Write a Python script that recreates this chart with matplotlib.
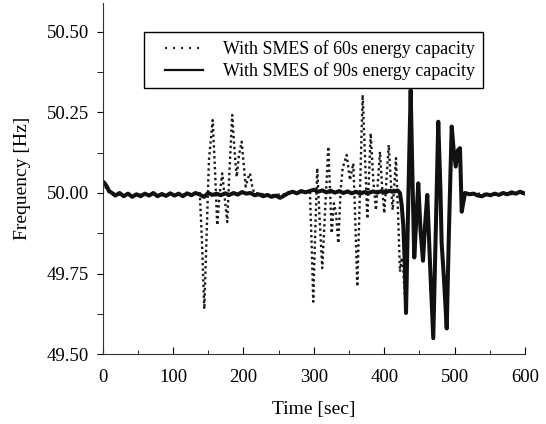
import numpy as np
import matplotlib
matplotlib.use("Agg")
import matplotlib.pyplot as plt
from matplotlib.lines import Line2D
from matplotlib.legend_handler import HandlerLine2D

plt.rcParams['font.family'] = ['Liberation Serif', 'DejaVu Serif']

# --- SMES 90s energy capacity (solid) ---
smes90_time = [0, 3, 6, 9, 12, 18, 24, 30, 36, 42, 48, 54, 60, 66, 72, 78, 84, 90, 96,
               102, 108, 114, 120, 126, 132, 138, 144, 150, 156, 162, 168, 174, 180, 186,
               192, 198, 204, 210, 216, 222, 228, 234, 240, 246, 252, 258, 264, 270, 276,
               282, 288, 294, 300, 306, 312, 318, 324, 330, 336, 342, 348, 354, 360, 366,
               372, 378, 384, 390, 396, 402, 408, 414, 419,
               422.4, 424.8, 427.1, 429.1, 431.0, 434.2, 437.6, 440.2, 442.7, 445.6, 448.4,
               451.6, 455.1, 458.0, 461.2, 465.5, 469.7, 473.3, 476.8, 479.9, 481.6, 485.0,
               488.8, 492.0, 495.9, 498.7, 501.6, 504.8, 507.7, 510.1, 514.8,
               521, 527, 533, 539, 545, 551, 557, 563, 569, 575, 581, 587, 593, 600]
smes90_freq = [50.036, 50.030, 50.020, 50.006, 50.002, 49.992, 50.000, 49.990, 49.998,
               49.988, 49.996, 49.990, 49.998, 49.992, 50.000, 49.990, 49.997, 49.991,
               49.999, 49.992, 49.998, 49.990, 49.999, 49.993, 50.000, 49.995, 49.988,
               50.000, 49.994, 49.998, 49.993, 49.999, 49.994, 50.000, 49.995, 50.003,
               49.998, 50.000, 49.993, 49.996, 49.990, 49.994, 49.988, 49.992, 49.985,
               49.992, 50.000, 50.004, 49.999, 50.006, 50.002, 50.006, 50.010, 50.004,
               50.008, 50.002, 50.007, 50.001, 50.006, 50.000, 50.005, 49.999, 50.004,
               49.998, 50.003, 50.000, 50.005, 50.001, 50.006, 50.002, 50.007, 50.004,
               50.008,
               50.000, 49.963, 49.900, 49.790, 49.628, 49.978, 50.319, 50.040, 49.800,
               49.916, 50.030, 49.885, 49.790, 49.900, 49.994, 49.760, 49.550, 49.885,
               50.221, 50.010, 49.845, 49.730, 49.580, 49.885, 50.206, 50.133, 50.082,
               50.133, 50.139, 49.942, 50.000,
               49.996, 49.998, 49.992, 49.990, 49.996, 49.993, 49.998, 49.994, 50.000,
               49.996, 50.002, 49.998, 50.004, 49.998]

# --- SMES 60s energy capacity (dotted) ---
smes60_time = [0, 5, 10, 30, 60, 90, 120, 138,
               141.0, 144.4, 147.5, 151.0, 156.3, 159.6, 162.8, 166.0, 169.9, 173.0, 177.0,
               180.2, 184.1, 187.3, 190.4, 193.7, 197.5, 200.5, 203.2, 206.5, 209.3, 212.1,
               215, 240, 265, 290,
               294.5, 297.0, 299.2, 302.1, 304.9, 307.8, 312.0, 316.3, 320.6, 323.0, 325.4,
               328.6, 331.5, 334.8, 338.1, 341.0, 346.7, 351.4, 356.1, 358.9, 361.8, 365.6,
               369.4, 372.7, 376.0, 380.8, 384.5, 388.3, 394.0, 397.0, 400.1, 406.4, 409.3,
               412.0, 416.7, 419.6, 422.4, 425.0, 427.1,
               431.0, 434.2, 437.6, 440.2, 442.7, 445.6, 448.4, 451.6, 455.1, 458.0, 461.2,
               465.5, 469.7, 473.3, 476.8, 479.9, 481.6, 485.0, 488.8, 492.0, 495.9, 498.7,
               501.6, 504.8, 507.7, 510.1, 514.8, 560, 600]
smes60_freq = [50.035, 50.015, 50.000, 49.993, 49.995, 49.993, 49.996, 50.000,
               49.855, 49.640, 49.855, 50.102, 50.226, 50.071, 49.900, 49.994, 50.061,
               49.994, 49.910, 50.071, 50.242, 50.133, 50.050, 50.118, 50.159, 50.087,
               50.020, 50.046, 50.061, 50.025,
               50.000, 49.993, 49.998, 50.004,
               50.004, 49.834, 49.663, 49.885, 50.077, 49.937, 49.767, 49.958, 50.144,
               50.009, 49.875, 49.968, 49.937, 49.844, 50.009, 50.077, 50.118, 50.040,
               50.092, 49.916, 49.710, 50.009, 50.304, 50.113, 49.920, 50.185, 50.040,
               49.947, 50.128, 50.020, 49.937, 50.149, 50.040, 49.947, 50.108, 49.940,
               49.756, 49.800, 49.760,
               49.628, 49.978, 50.319, 50.040, 49.800, 49.916, 50.030, 49.885, 49.790,
               49.900, 49.994, 49.760, 49.550, 49.885, 50.221, 50.010, 49.845, 49.730,
               49.580, 49.885, 50.206, 50.133, 50.082, 50.133, 50.139, 49.942, 50.000,
               49.995, 49.998]

labels = ['With SMES of 60s energy capacity', 'With SMES of 90s energy capacity']


class ShiftedLine(HandlerLine2D):
    # leaves some extra room on the left of the legend handle
    def create_artists(self, legend, orig_handle, xdescent, ydescent, width, height,
                       fontsize, trans):
        off = 9.5
        return super().create_artists(legend, orig_handle, xdescent - off, ydescent,
                                      width - off, height, fontsize, trans)


fig = plt.figure(figsize=(5.46, 4.24), dpi=100)
ax = fig.add_axes([0.188, 0.1644, 0.7735, 0.8278])

ax.plot(smes60_time, smes60_freq, color='#1a1a1a', lw=1.7, linestyle=(0, (1, 1.3)))
ax.plot(smes90_time, smes90_freq, color='#111111', lw=2.9, solid_joinstyle='round')

ax.set_xlim(0, 600)
ax.set_ylim(49.5, 50.588)
ax.set_xticks([0, 100, 200, 300, 400, 500, 600])
ax.set_xticks([50, 150, 250, 350, 450, 550], minor=True)
ax.set_yticks([49.5, 49.75, 50.0, 50.25, 50.5])
ax.set_yticks([49.625, 49.875, 50.125, 50.375], minor=True)
ax.set_yticklabels(['49.50', '49.75', '50.00', '50.25', '50.50'])

ax.spines['top'].set_visible(False)
ax.spines['right'].set_visible(False)
ax.spines['left'].set_color('#333333')
ax.spines['bottom'].set_color('#333333')

ax.tick_params(axis='x', which='major', direction='in', length=5, labelsize=13.5, pad=10.5)
ax.tick_params(axis='x', which='minor', direction='in', length=3)
ax.tick_params(axis='y', which='major', direction='out', length=4.5, labelsize=13.5, pad=5.5)
ax.tick_params(axis='y', which='minor', direction='out', length=4.5)

ax.set_xlabel('Time [sec]', fontsize=14, labelpad=11)
ax.set_ylabel('Frequency [Hz]', fontsize=14, labelpad=11.5)

h60 = Line2D([], [], color='#222222', lw=1.5, linestyle=(0, (1, 2.84)))
h90 = Line2D([], [], color='#111111', lw=1.6)
leg = ax.legend([h60, h90], labels, loc='upper left', bbox_to_anchor=(0.0978, 0.919),
                fontsize=12.9, frameon=True, fancybox=False, edgecolor='black',
                framealpha=1, handlelength=2.85, handletextpad=1.08, borderpad=0.46,
                labelspacing=0.24, borderaxespad=0,
                handler_map={Line2D: ShiftedLine()})
leg.get_frame().set_linewidth(1.0)

fig.savefig('out.png', dpi=100)
